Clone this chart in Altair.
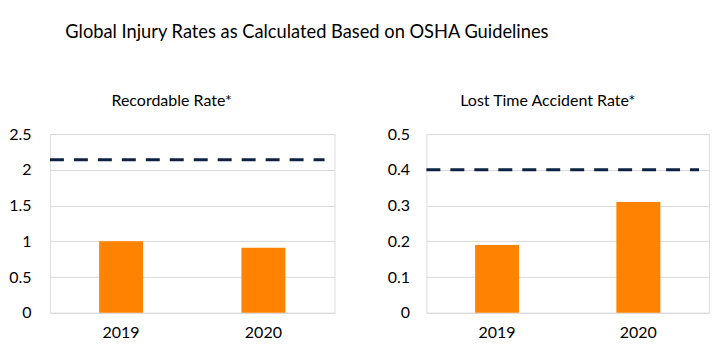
import altair as alt
import pandas as pd

years = ["2019", "2020"]
recordable = [1.0, 0.91]
lost_time = [0.19, 0.31]
recordable_target = [2.14]
lost_time_target = [0.40]
recordable_ticks = [0, 0.5, 1, 1.5, 2, 2.5]
lost_time_ticks = [0, 0.1, 0.2, 0.3, 0.4, 0.5]

FONT = "Lato"
ORANGE = "#FF8200"
NAVY = "#0E2243"


def panel(title, values, target, ticks, width, extent, lpad):
    df = pd.DataFrame({"year": years, "rate": values})
    tdf = pd.DataFrame({"rate": target})
    yenc = alt.Y(
        "rate:Q", title=None,
        scale=alt.Scale(domain=[ticks[0], ticks[-1]], nice=False, zero=True),
        axis=alt.Axis(values=ticks, format="~g", ticks=False, domain=False,
                      grid=True, gridColor="#D9D9D9", gridWidth=1,
                      labelOverlap=False,
                      labelFontSize=16, labelFont=FONT, labelColor="#000000",
                      labelPadding=lpad, minExtent=extent, maxExtent=extent),
    )
    bars = alt.Chart(df).mark_bar(color=ORANGE, size=44).encode(
        x=alt.X("year:N", title=None,
                scale=alt.Scale(paddingInner=0, paddingOuter=0),
                axis=alt.Axis(labelAngle=0, ticks=False, domain=False, grid=False,
                              labelFontSize=16, labelFont=FONT, labelColor="#000000",
                              labelPadding=12)),
        y=yenc,
    )
    rule = alt.Chart(tdf).mark_rule(color=NAVY, strokeWidth=3, strokeDash=[14, 10]).encode(
        y=yenc,
        x=alt.value(0),
        x2=alt.value(width - 10),
    )
    return alt.layer(bars, rule).properties(
        width=width, height=179,
        title=alt.Title(title, fontSize=16, font=FONT, fontWeight="normal",
                        color="#000000", anchor="middle", frame="bounds", offset=17),
    )


left = panel("Recordable Rate*", recordable, recordable_target, recordable_ticks, 285, 39, 19)
right = panel("Lost Time Accident Rate*", lost_time, lost_time_target, lost_time_ticks, 283, 40, 17)

chart = alt.hconcat(left, right, spacing=50).properties(
    title=alt.Title("Global Injury Rates as Calculated Based on OSHA Guidelines",
                    fontSize=18.3, font=FONT, fontWeight="normal", color="#000000",
                    anchor="middle", offset=50, dx=-52),
    padding={"left": 0, "top": 15, "right": 0, "bottom": 0},
).configure_view(stroke="transparent", strokeWidth=0).configure_axisX(grid=False).configure(background="white")

chart.save("out.html", embed_options={"renderer": "svg", "actions": False})
